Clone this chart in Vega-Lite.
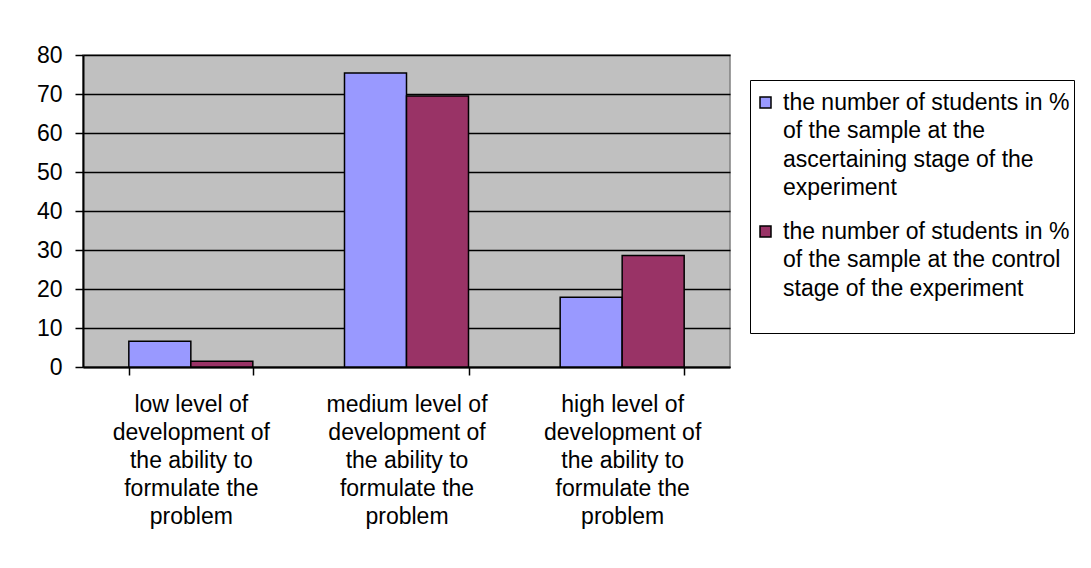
{
  "$schema": "https://vega.github.io/schema/vega-lite/v6.json",
  "width": 647,
  "height": 312,
  "autosize": {"type": "none"},
  "padding": {"left": 83, "top": 55, "right": 361, "bottom": 201},
  "background": "white",
  "config": {
    "font": "Liberation Sans",
    "view": {"fill": "#c0c0c0", "stroke": "#808080", "strokeWidth": 1.5}
  },
  "data": {
    "values": [
      {"level": "low level of\ndevelopment of\nthe ability to\nformulate the\nproblem", "stage": "the number of students in %\nof the sample at the\nascertaining stage of the\nexperiment", "percent": 6.6},
      {"level": "low level of\ndevelopment of\nthe ability to\nformulate the\nproblem", "stage": "the number of students in %\nof the sample at the control\nstage of the experiment", "percent": 1.5},
      {"level": "medium level of\ndevelopment of\nthe ability to\nformulate the\nproblem", "stage": "the number of students in %\nof the sample at the\nascertaining stage of the\nexperiment", "percent": 75.4},
      {"level": "medium level of\ndevelopment of\nthe ability to\nformulate the\nproblem", "stage": "the number of students in %\nof the sample at the control\nstage of the experiment", "percent": 69.5},
      {"level": "high level of\ndevelopment of\nthe ability to\nformulate the\nproblem", "stage": "the number of students in %\nof the sample at the\nascertaining stage of the\nexperiment", "percent": 17.9},
      {"level": "high level of\ndevelopment of\nthe ability to\nformulate the\nproblem", "stage": "the number of students in %\nof the sample at the control\nstage of the experiment", "percent": 28.6}
    ]
  },
  "mark": {"type": "bar", "stroke": "black", "strokeWidth": 1.5},
  "encoding": {
    "x": {
      "field": "level", "type": "nominal", "sort": null,
      "scale": {"paddingInner": 0.425, "paddingOuter": 0.2125},
      "axis": {
        "title": null, "labelAngle": 0, "labelExpr": "split(datum.label, '\\n')",
        "labelFontSize": 23, "labelColor": "black", "labelLineHeight": 28,
        "labelBaseline": "top", "labelPadding": 18, "labelLimit": 300,
        "tickBand": "extent", "tickSize": 8, "tickColor": "black", "tickWidth": 1.5,
        "domainColor": "black", "domainWidth": 2
      }
    },
    "xOffset": {"field": "stage", "type": "nominal", "sort": null},
    "y": {
      "field": "percent", "type": "quantitative",
      "scale": {"domain": [0, 80]},
      "axis": {
        "title": null, "values": [0, 10, 20, 30, 40, 50, 60, 70, 80],
        "labelFontSize": 23, "labelColor": "black", "labelPadding": 13,
        "tickSize": 8, "tickColor": "black", "tickWidth": 1.5,
        "domainColor": "black", "domainWidth": 2,
        "grid": true, "gridColor": "black", "gridWidth": 1.5, "gridOpacity": 1
      }
    },
    "color": {
      "field": "stage", "type": "nominal",
      "scale": {
        "domain": [
          "the number of students in %\nof the sample at the\nascertaining stage of the\nexperiment",
          "the number of students in %\nof the sample at the control\nstage of the experiment"
        ],
        "range": ["#9999ff", "#993366"]
      },
      "legend": {
        "title": " ", "titleFontSize": 5, "titlePadding": 2,
        "orient": "none", "legendX": 667, "legendY": 25,
        "labelExpr": "indexof(datum.label, 'control') >= 0 ? split(datum.label + '\\n ', '\\n') : split(datum.label, '\\n')",
        "labelFontSize": 23, "labelColor": "black", "labelLimit": 400,
        "symbolType": "square", "symbolSize": 121, "symbolStrokeColor": "black",
        "symbolStrokeWidth": 1.5, "symbolOpacity": 1,
        "strokeColor": "black", "padding": 4, "rowPadding": 20, "labelOffset": 6,
        "encode": {"labels": {"update": {"lineHeight": {"value": 28.5}}}}
      }
    }
  }
}
